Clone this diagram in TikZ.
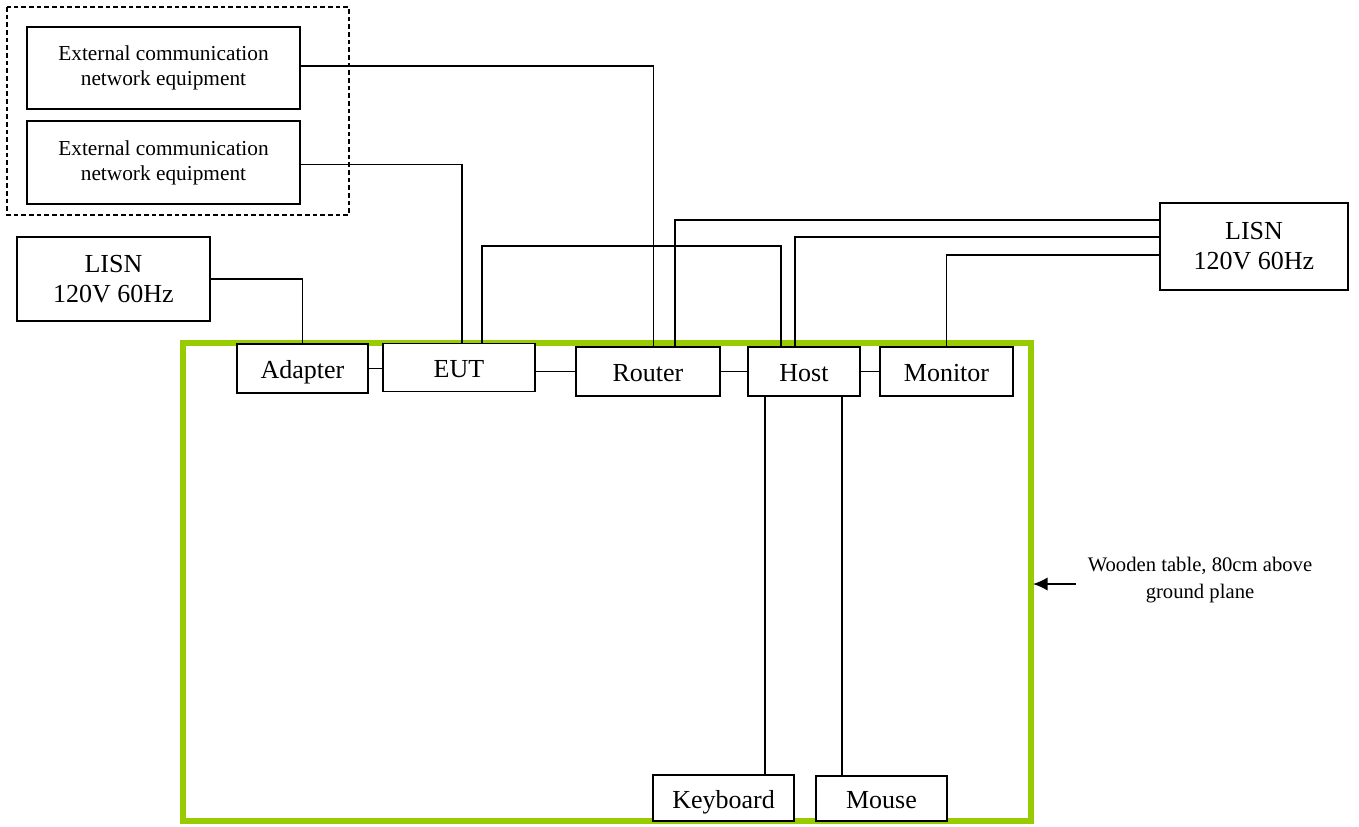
\documentclass[tikz,border=0pt]{standalone}
\usepackage{fontspec}
\setmainfont{Liberation Serif}
\usetikzlibrary{arrows.meta}
\definecolor{tablegreen}{RGB}{153,204,0}
\begin{document}
\begin{tikzpicture}[x=0.75pt,y=-0.75pt,
  box/.style={draw, line width=1.1pt, fill=white, inner sep=0pt, align=center,
              font=\fontsize{19.5}{22.5}\selectfont},
  single/.style={box, text height=15pt, text depth=0pt},
  extbox/.style={box, font=\fontsize{16}{18.75}\selectfont},
  sz/.style 2 args={minimum width=#1*0.75pt, minimum height=#2*0.75pt},
  wire/.style={line width=1.1pt},
  grouping/.style={draw, line width=0.8pt, dash pattern=on 3.5pt off 2.25pt},
  tablerim/.style={draw=tablegreen, line width=4.5pt},
  note/.style={align=center, font=\fontsize{15.5}{20}\selectfont},
]
\useasboundingbox (0,0) rectangle (1359,826);

% table
\draw[tablerim] (182.5,343) rectangle (1030.5,821);

% dashed group
\draw[grouping] (7,7) rectangle (349,215);

% nodes
\node[extbox, sz={273}{82}] (ext1) at (163.5,68) {External communication\\network equipment};
\node[extbox, sz={273}{83}] (ext2) at (163.5,162.5) {External communication\\network equipment};
\node[box, sz={193}{84}] (lisnL) at (113.5,279) {LISN\\120V 60Hz};
\node[box, sz={188}{87}] (lisnR) at (1254,246.5) {LISN\\120V 60Hz};
\node[single, sz={131}{49}] (adapter) at (302.5,368.5) {Adapter};
\node[single, sz={152}{48}] (eut) at (459,367.5) {EUT};
\node[single, sz={144}{49}] (router) at (648,371.5) {Router};
\node[single, sz={112}{49}] (host) at (804,371.5) {Host};
\node[single, sz={133}{49}] (monitor) at (946.5,371.5) {Monitor};
\node[single, sz={141}{46}] (keyboard) at (723.5,798) {Keyboard};
\node[single, sz={131}{45}] (mouse) at (881.5,798.5) {Mouse};

% connectors
\draw[wire] ([yshift=1.5pt]ext1.east) -| ([xshift=4.1pt]router.north);
\draw[wire] ([yshift=-1.5pt]ext2.east) -| ([xshift=2.25pt]eut.north);
\draw[wire] (lisnL.east) -| (adapter.north);
\draw[wire] ([xshift=17.25pt]eut.north) -- ++(0,-97) -| ([xshift=-17.25pt]host.north);
\draw[wire] ([xshift=20.25pt]router.north) |- ([yshift=19.9pt]lisnR.west);
\draw[wire] ([xshift=-6.75pt]host.north) |- ([yshift=7.1pt]lisnR.west);
\draw[wire] (monitor.north) |- ([yshift=-6.4pt]lisnR.west);
\draw[wire] (adapter.east) -- (adapter.east -| eut.west);
\draw[wire] (router.west -| eut.east) -- (router.west);
\draw[wire] (router.east) -- (host.west);
\draw[wire] (host.east) -- (monitor.west);
\draw[wire] ([xshift=-29.25pt]host.south) -- ([xshift=-29.25pt]host.south |- keyboard.north);
\draw[wire] ([xshift=28.6pt]host.south) -- ([xshift=28.6pt]host.south |- mouse.north);

% table label
\node[note] (tbl) at (1200,580) {Wooden table, 80cm above\\ground plane};
\coordinate (arrowtail) at (1076,584);
\coordinate (rim) at (1033,584);
\draw[wire, -{Latex[length=11pt,width=10pt]}] (arrowtail) -- (rim);
\end{tikzpicture}
\end{document}
